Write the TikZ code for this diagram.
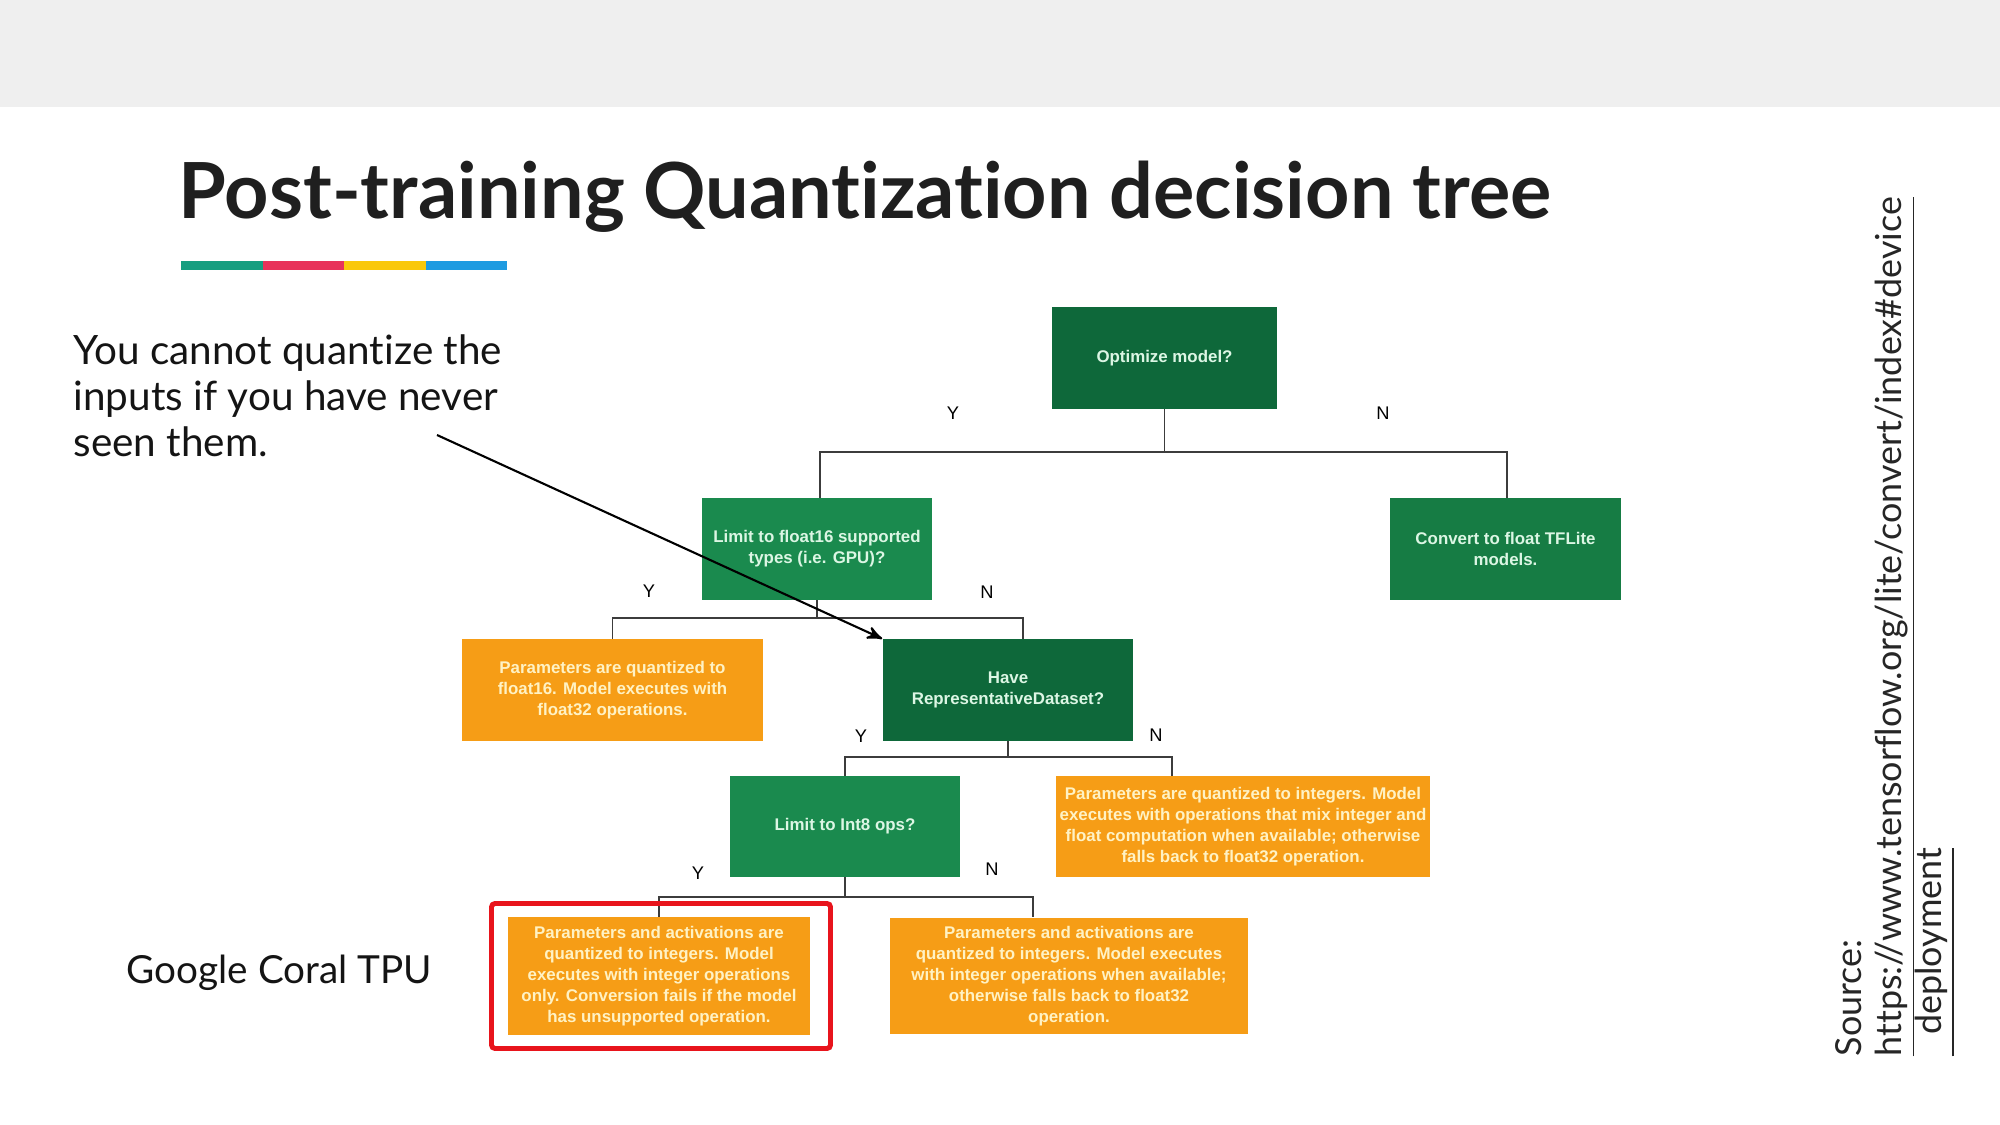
\documentclass[tikz,border=0pt]{standalone}
\usepackage{fontspec}
\setmainfont{Liberation Sans}
\newfontfamily\headfont[Ligatures=NoCommon]{Lato}
\newfontfamily\notefont[Ligatures=NoCommon]{Lato}
\usetikzlibrary{arrows}

\definecolor{darkgreen}{RGB}{14,104,58}
\definecolor{midgreen}{RGB}{26,138,78}
\definecolor{convgreen}{RGB}{22,124,68}
\definecolor{boxorange}{RGB}{246,157,22}
\definecolor{greentext}{RGB}{220,246,228}
\definecolor{orangetext}{RGB}{255,242,196}
\definecolor{linkgray}{RGB}{60,60,60}
\definecolor{bandgray}{RGB}{239,239,239}
\definecolor{framered}{RGB}{232,20,28}
\definecolor{barteal}{RGB}{22,158,128}
\definecolor{barred}{RGB}{232,50,90}
\definecolor{baryellow}{RGB}{250,200,10}
\definecolor{barblue}{RGB}{30,155,225}

\begin{document}
\begin{tikzpicture}[x=0.01cm,y=-0.01cm,>=stealth',
  box/.style={rectangle,align=center,inner sep=0pt,font=\bfseries\fontsize{4.8}{6}\selectfont},
  dark box/.style={box,fill=darkgreen,text=greentext},
  green box/.style={box,fill=midgreen,text=greentext},
  orange box/.style={box,fill=boxorange,text=orangetext},
  link/.style={draw=linkgray,line width=0.5pt},
  yn/.style={font=\fontsize{5.2}{6}\selectfont,text=black,inner sep=0pt}]
  \useasboundingbox (0,0) rectangle (2000,1125);
  \fill[bandgray] (0,0) rectangle (2000,107);

  % heading
  \node[anchor=base west,inner sep=0pt,font=\headfont\bfseries\fontsize{22}{26}\selectfont,text=black!88] (title) at (178,219) {Post-training Quantization decision tree};
  \foreach \c [count=\i from 0] in {barteal,barred,baryellow,barblue}
    \fill[\c] (181+81.6*\i,261) rectangle ++(81.6,9);

  % decision boxes
  \node[dark box,minimum width=2.25cm,minimum height=1.01cm] (opt) at (1164.5,358) {Optimize model?};
  \node[green box,minimum width=2.30cm,minimum height=1.01cm] (f16) at (817,549) {Limit to float16 supported\\types (i.e. GPU)?};
  \node[green box,fill=convgreen,minimum width=2.31cm,minimum height=1.01cm] (conv) at (1505.5,549) {Convert to float TFLite\\models.};
  \node[orange box,minimum width=3.01cm,minimum height=1.01cm] (pf16) at (612.5,690) {Parameters are quantized to\\float16. Model executes with\\float32 operations.};
  \node[dark box,minimum width=2.50cm,minimum height=1.01cm] (rep) at (1008,690) {Have\\RepresentativeDataset?};
  \node[green box,minimum width=2.30cm,minimum height=1.00cm] (int8) at (845,826.5) {Limit to Int8 ops?};
  \node[orange box,minimum width=3.74cm,minimum height=1.00cm] (pmix) at (1243,826.5) {Parameters are quantized to integers. Model\\executes with operations that mix integer and\\float computation when available; otherwise\\falls back to float32 operation.};
  \node[orange box,minimum width=3.02cm,minimum height=1.17cm] (pint) at (659,976) {Parameters and activations are\\quantized to integers. Model\\executes with integer operations\\only. Conversion fails if the model\\has unsupported operation.};
  \node[orange box,minimum width=3.58cm,minimum height=1.16cm] (pavail) at (1069,976) {Parameters and activations are\\quantized to integers. Model executes\\with integer operations when available;\\otherwise falls back to float32\\operation.};

  % tree links
  \coordinate (j1) at (1164.5,452);
  \coordinate (j2) at (817,618);
  \coordinate (j3) at (1008,757);
  \coordinate (j4) at (845,897);
  \draw[link] (opt.south) -- (j1);
  \draw[link] ([xshift=0.03cm]f16.north) |- (j1) -| ([xshift=0.015cm]conv.north);
  \draw[link] (f16.south) -- (j2);
  \draw[link] (pf16.north) |- (j2) -| ([xshift=0.15cm]rep.north);
  \draw[link] (rep.south) -- (j3);
  \draw[link] (int8.north) |- (j3) -| ([xshift=-0.71cm]pmix.north);
  \draw[link] (int8.south) -- (j4);
  \draw[link] (pint.north) |- (j4) -| ([xshift=-0.36cm]pavail.north);

  \node[yn] (y1) at (953,413) {Y};
  \node[yn] (n1) at (1383,413) {N};
  \node[yn] (y2) at (649,591) {Y};
  \node[yn] (n2) at (987,592) {N};
  \node[yn] (y3) at (861,736) {Y};
  \node[yn] (n3) at (1156,735) {N};
  \node[yn] (y4) at (698,873) {Y};
  \node[yn] (n4) at (992,869) {N};

  % side notes
  \draw[framered,line width=1.4pt,rounded corners=1pt] (491.5,903.5) rectangle (830.5,1048.5);
  \node[anchor=west,align=left,inner sep=0pt,font=\notefont\fontsize{11.5}{13.1}\selectfont,text=black!92] (note) at (73,396) {You cannot quantize the\\inputs if you have never\\seen them.};
  \node[anchor=west,inner sep=0pt,font=\notefont\fontsize{11}{13}\selectfont,text=black!92] (coral) at (126,973) {Google Coral TPU};
  \node[rotate=90,anchor=north west,align=left,inner sep=0pt,font=\notefont\fontsize{10.2}{11.4}\selectfont,text=black!85] (src) at (1835,1057) {Source:\\\underline{https://www.tensorflow.org/lite/convert/index\#device}\\\underline{\hspace{0.6em}deployment}};

  \coordinate (tail) at (437,435);
  \draw[->,line width=0.6pt] (tail) -- (rep.north west);
\end{tikzpicture}
\end{document}
